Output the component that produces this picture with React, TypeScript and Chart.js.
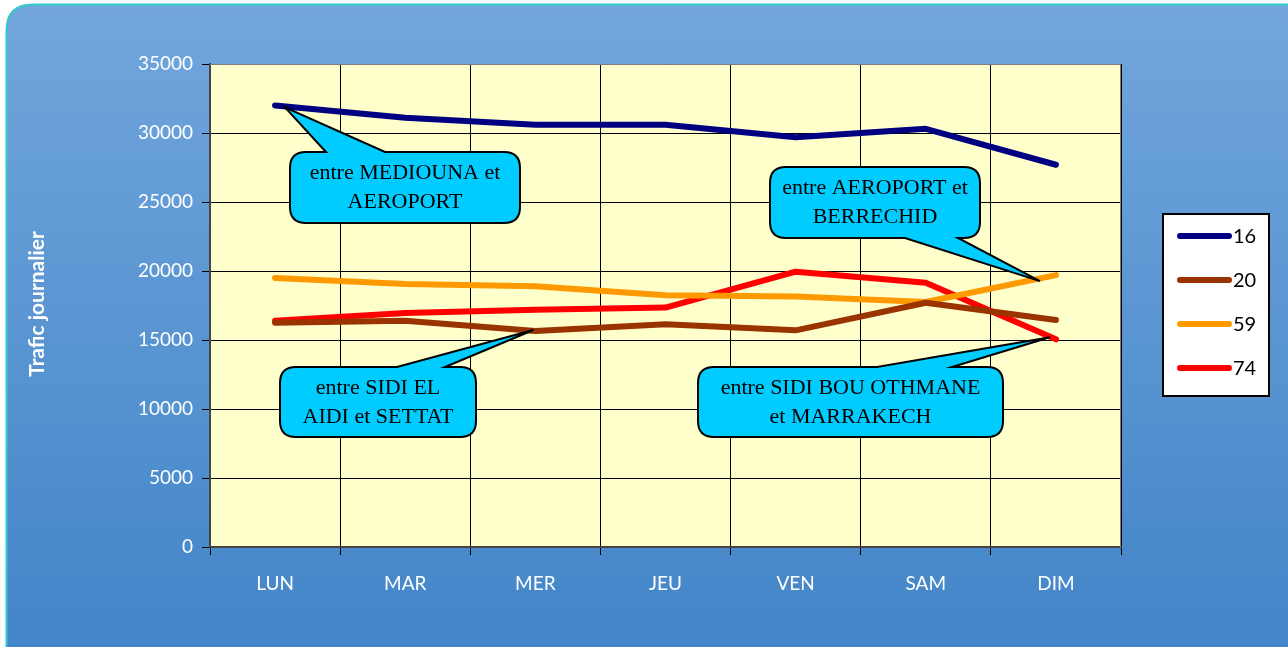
import React, { useEffect, useRef } from "react";
import { Chart, registerables } from "chart.js";

Chart.register(...registerables);

const categories = ["LUN", "MAR", "MER", "JEU", "VEN", "SAM", "DIM"];
const seriesNames = ["16", "20", "59", "74"];
const route16 = [32000, 31100, 30600, 30600, 29700, 30300, 27700];
const route20 = [16250, 16400, 15650, 16150, 15700, 17700, 16450];
const route59 = [19500, 19050, 18900, 18250, 18150, 17750, 19700];
const route74 = [16400, 16950, 17200, 17350, 19950, 19150, 15050];
const seriesColors = ["#000080", "#993300", "#FF9900", "#FF0000"];
const yTicks = [0, 5000, 10000, 15000, 20000, 25000, 30000, 35000];
const yTitle = "Trafic journalier";

const calloutTexts = [
  ["entre MEDIOUNA et", "AEROPORT"],
  ["entre AEROPORT et", "BERRECHID"],
  ["entre SIDI EL", "AIDI et SETTAT"],
  ["entre SIDI BOU OTHMANE", "et MARRAKECH"],
];

const W = 1288;
const H = 647;
const TICK_FONT = "Lato, 'Open Sans', sans-serif";

function roundRectPath(
  ctx: CanvasRenderingContext2D,
  x: number,
  y: number,
  w: number,
  h: number,
  r: number,
  tail: null | { edge: "top" | "bottom"; a: number; b: number; tx: number; ty: number }
) {
  ctx.beginPath();
  ctx.moveTo(x + r, y);
  if (tail && tail.edge === "top") {
    ctx.lineTo(tail.a, y);
    ctx.lineTo(tail.tx, tail.ty);
    ctx.lineTo(tail.b, y);
  }
  ctx.lineTo(x + w - r, y);
  ctx.quadraticCurveTo(x + w, y, x + w, y + r);
  ctx.lineTo(x + w, y + h - r);
  ctx.quadraticCurveTo(x + w, y + h, x + w - r, y + h);
  if (tail && tail.edge === "bottom") {
    ctx.lineTo(tail.b, y + h);
    ctx.lineTo(tail.tx, tail.ty);
    ctx.lineTo(tail.a, y + h);
  }
  ctx.lineTo(x + r, y + h);
  ctx.quadraticCurveTo(x, y + h, x, y + h - r);
  ctx.lineTo(x, y + r);
  ctx.quadraticCurveTo(x, y, x + r, y);
  ctx.closePath();
}

const decorPlugin = {
  id: "decor",
  beforeDraw(chart: any) {
    const ctx = chart.ctx as CanvasRenderingContext2D;
    ctx.save();
    ctx.fillStyle = "#ffffff";
    ctx.fillRect(0, 0, W, H);
    const g = ctx.createLinearGradient(0, 4, 0, H);
    g.addColorStop(0, "#72A6DC");
    g.addColorStop(1, "#4285C8");
    ctx.beginPath();
    const x0 = 6.5, y0 = 4.5, r = 26;
    ctx.moveTo(x0 + r, y0);
    ctx.lineTo(W + 20, y0);
    ctx.lineTo(W + 20, H + 20);
    ctx.lineTo(x0, H + 20);
    ctx.lineTo(x0, y0 + r);
    ctx.quadraticCurveTo(x0, y0, x0 + r, y0);
    ctx.closePath();
    ctx.fillStyle = g;
    ctx.fill();
    ctx.strokeStyle = "#33CCCC";
    ctx.lineWidth = 2;
    ctx.stroke();
    const a = chart.chartArea;
    ctx.fillStyle = "#FFFFCC";
    ctx.fillRect(a.left, a.top, a.right - a.left, a.bottom - a.top);
    // y title
    ctx.translate(37, 304);
    ctx.rotate(-Math.PI / 2);
    ctx.fillStyle = "#ffffff";
    ctx.font = "bold 21px " + TICK_FONT;
    ctx.textAlign = "center";
    ctx.textBaseline = "middle";
    ctx.fillText(yTitle, 0, 0);
    ctx.restore();
  },
  afterDatasetsDraw(chart: any) {
    const ctx = chart.ctx as CanvasRenderingContext2D;
    const a = chart.chartArea;
    const xs = chart.scales.x;
    const ys = chart.scales.y;
    ctx.save();
    // plot area outline
    ctx.strokeStyle = "#808080";
    ctx.lineWidth = 1;
    ctx.beginPath();
    ctx.moveTo(a.left, a.top + 0.5);
    ctx.lineTo(a.right - 0.5, a.top + 0.5);
    ctx.lineTo(a.right - 0.5, a.bottom);
    ctx.stroke();

    const pt = (ds: number[], i: number) => ({ x: xs.getPixelForValue(i), y: ys.getPixelForValue(ds[i]) });
    const p1 = pt(route16, 0);
    const p2 = pt(route59, 6);
    const p3 = pt(route20, 2);
    const p4 = pt(route74, 6);
    const callouts = [
      { x: 290, y: 152, w: 230, h: 71, tail: { edge: "top" as const, a: 326, b: 385, tx: p1.x + 10, ty: p1.y + 2 } },
      { x: 770, y: 167, w: 210, h: 71, tail: { edge: "bottom" as const, a: 905, b: 958, tx: p2.x - 16, ty: p2.y + 6 } },
      { x: 280, y: 367, w: 196, h: 70, tail: { edge: "top" as const, a: 397, b: 445, tx: p3.x - 2, ty: p3.y - 1 } },
      { x: 698, y: 367, w: 305, h: 70, tail: { edge: "top" as const, a: 877, b: 952, tx: p4.x - 6, ty: p4.y - 2 } },
    ];
    callouts.forEach((c, i) => {
      roundRectPath(ctx, c.x, c.y, c.w, c.h, 16, c.tail);
      ctx.fillStyle = "#00CCFF";
      ctx.fill();
      ctx.strokeStyle = "#000000";
      ctx.lineWidth = 2;
      ctx.lineJoin = "miter";
      ctx.stroke();
      ctx.fillStyle = "#000000";
      ctx.font = "22px 'Liberation Serif', 'DejaVu Serif', serif";
      ctx.textAlign = "center";
      ctx.textBaseline = "middle";
      const lines = calloutTexts[i];
      ctx.fillText(lines[0], c.x + c.w / 2, c.y + 21);
      ctx.fillText(lines[1], c.x + c.w / 2, c.y + 50);
    });

    // legend
    const lx = 1163, ly = 214, lw = 106, lh = 182;
    ctx.fillStyle = "#ffffff";
    ctx.fillRect(lx, ly, lw, lh);
    ctx.strokeStyle = "#000000";
    ctx.lineWidth = 2;
    ctx.strokeRect(lx, ly, lw, lh);
    chart.data.datasets.forEach((ds: any, i: number) => {
      const yy = 236 + i * 44;
      ctx.strokeStyle = ds.borderColor;
      ctx.lineWidth = 6;
      ctx.lineCap = "round";
      ctx.beginPath();
      ctx.moveTo(1180, yy);
      ctx.lineTo(1229, yy);
      ctx.stroke();
      ctx.fillStyle = "#000000";
      ctx.font = "20px " + TICK_FONT;
      ctx.textAlign = "left";
      ctx.textBaseline = "middle";
      ctx.fillText(ds.label, 1233, yy + 1);
    });
    ctx.restore();
  },
};

export default function App() {
  const ref = useRef<HTMLCanvasElement | null>(null);
  useEffect(() => {
    document.body.style.margin = "0";
    document.body.style.overflow = "hidden";
    const canvas = ref.current;
    if (!canvas) return;
    const datasets = [route16, route20, route59, route74].map((d, i) => ({
      label: seriesNames[i],
      data: d,
      borderColor: seriesColors[i],
      backgroundColor: seriesColors[i],
      borderWidth: 6,
      pointRadius: 0,
      borderCapStyle: "round" as const,
      borderJoinStyle: "round" as const,
      tension: 0,
    }));
    const chart = new Chart(canvas, {
      type: "line",
      data: { labels: categories, datasets },
      plugins: [decorPlugin],
      options: {
        responsive: false,
        animation: false,
        layout: { padding: { top: 64, right: 167, bottom: 0, left: 0 } },
        plugins: { legend: { display: false }, tooltip: { enabled: false } },
        scales: {
          x: {
            offset: true,
            afterFit: (s: any) => { s.height = 100; },
            grid: { offset: true, color: "#000000", lineWidth: 1, tickLength: 8, drawTicks: true },
            border: { color: "#444444", width: 2 },
            ticks: { color: "#ffffff", font: { family: TICK_FONT, size: 19 }, padding: 17, maxRotation: 0 },
          },
          y: {
            min: 0,
            max: 35000,
            afterFit: (s: any) => { s.width = 210; },
            afterBuildTicks: (s: any) => { s.ticks = yTicks.map((v) => ({ value: v })); },
            grid: { color: "#000000", lineWidth: 1, tickLength: 8, drawTicks: true },
            border: { color: "#444444", width: 2 },
            ticks: {
              color: "#ffffff",
              font: { family: TICK_FONT, size: 19 },
              padding: 9,
              callback: (v: any) => String(v),
            },
          },
        },
      },
    });
    return () => chart.destroy();
  }, []);
  return (
    <div style={{ width: W, height: H, overflow: "hidden" }}>
      <canvas ref={ref} width={W} height={H} style={{ display: "block", width: W, height: H }} />
    </div>
  );
}
